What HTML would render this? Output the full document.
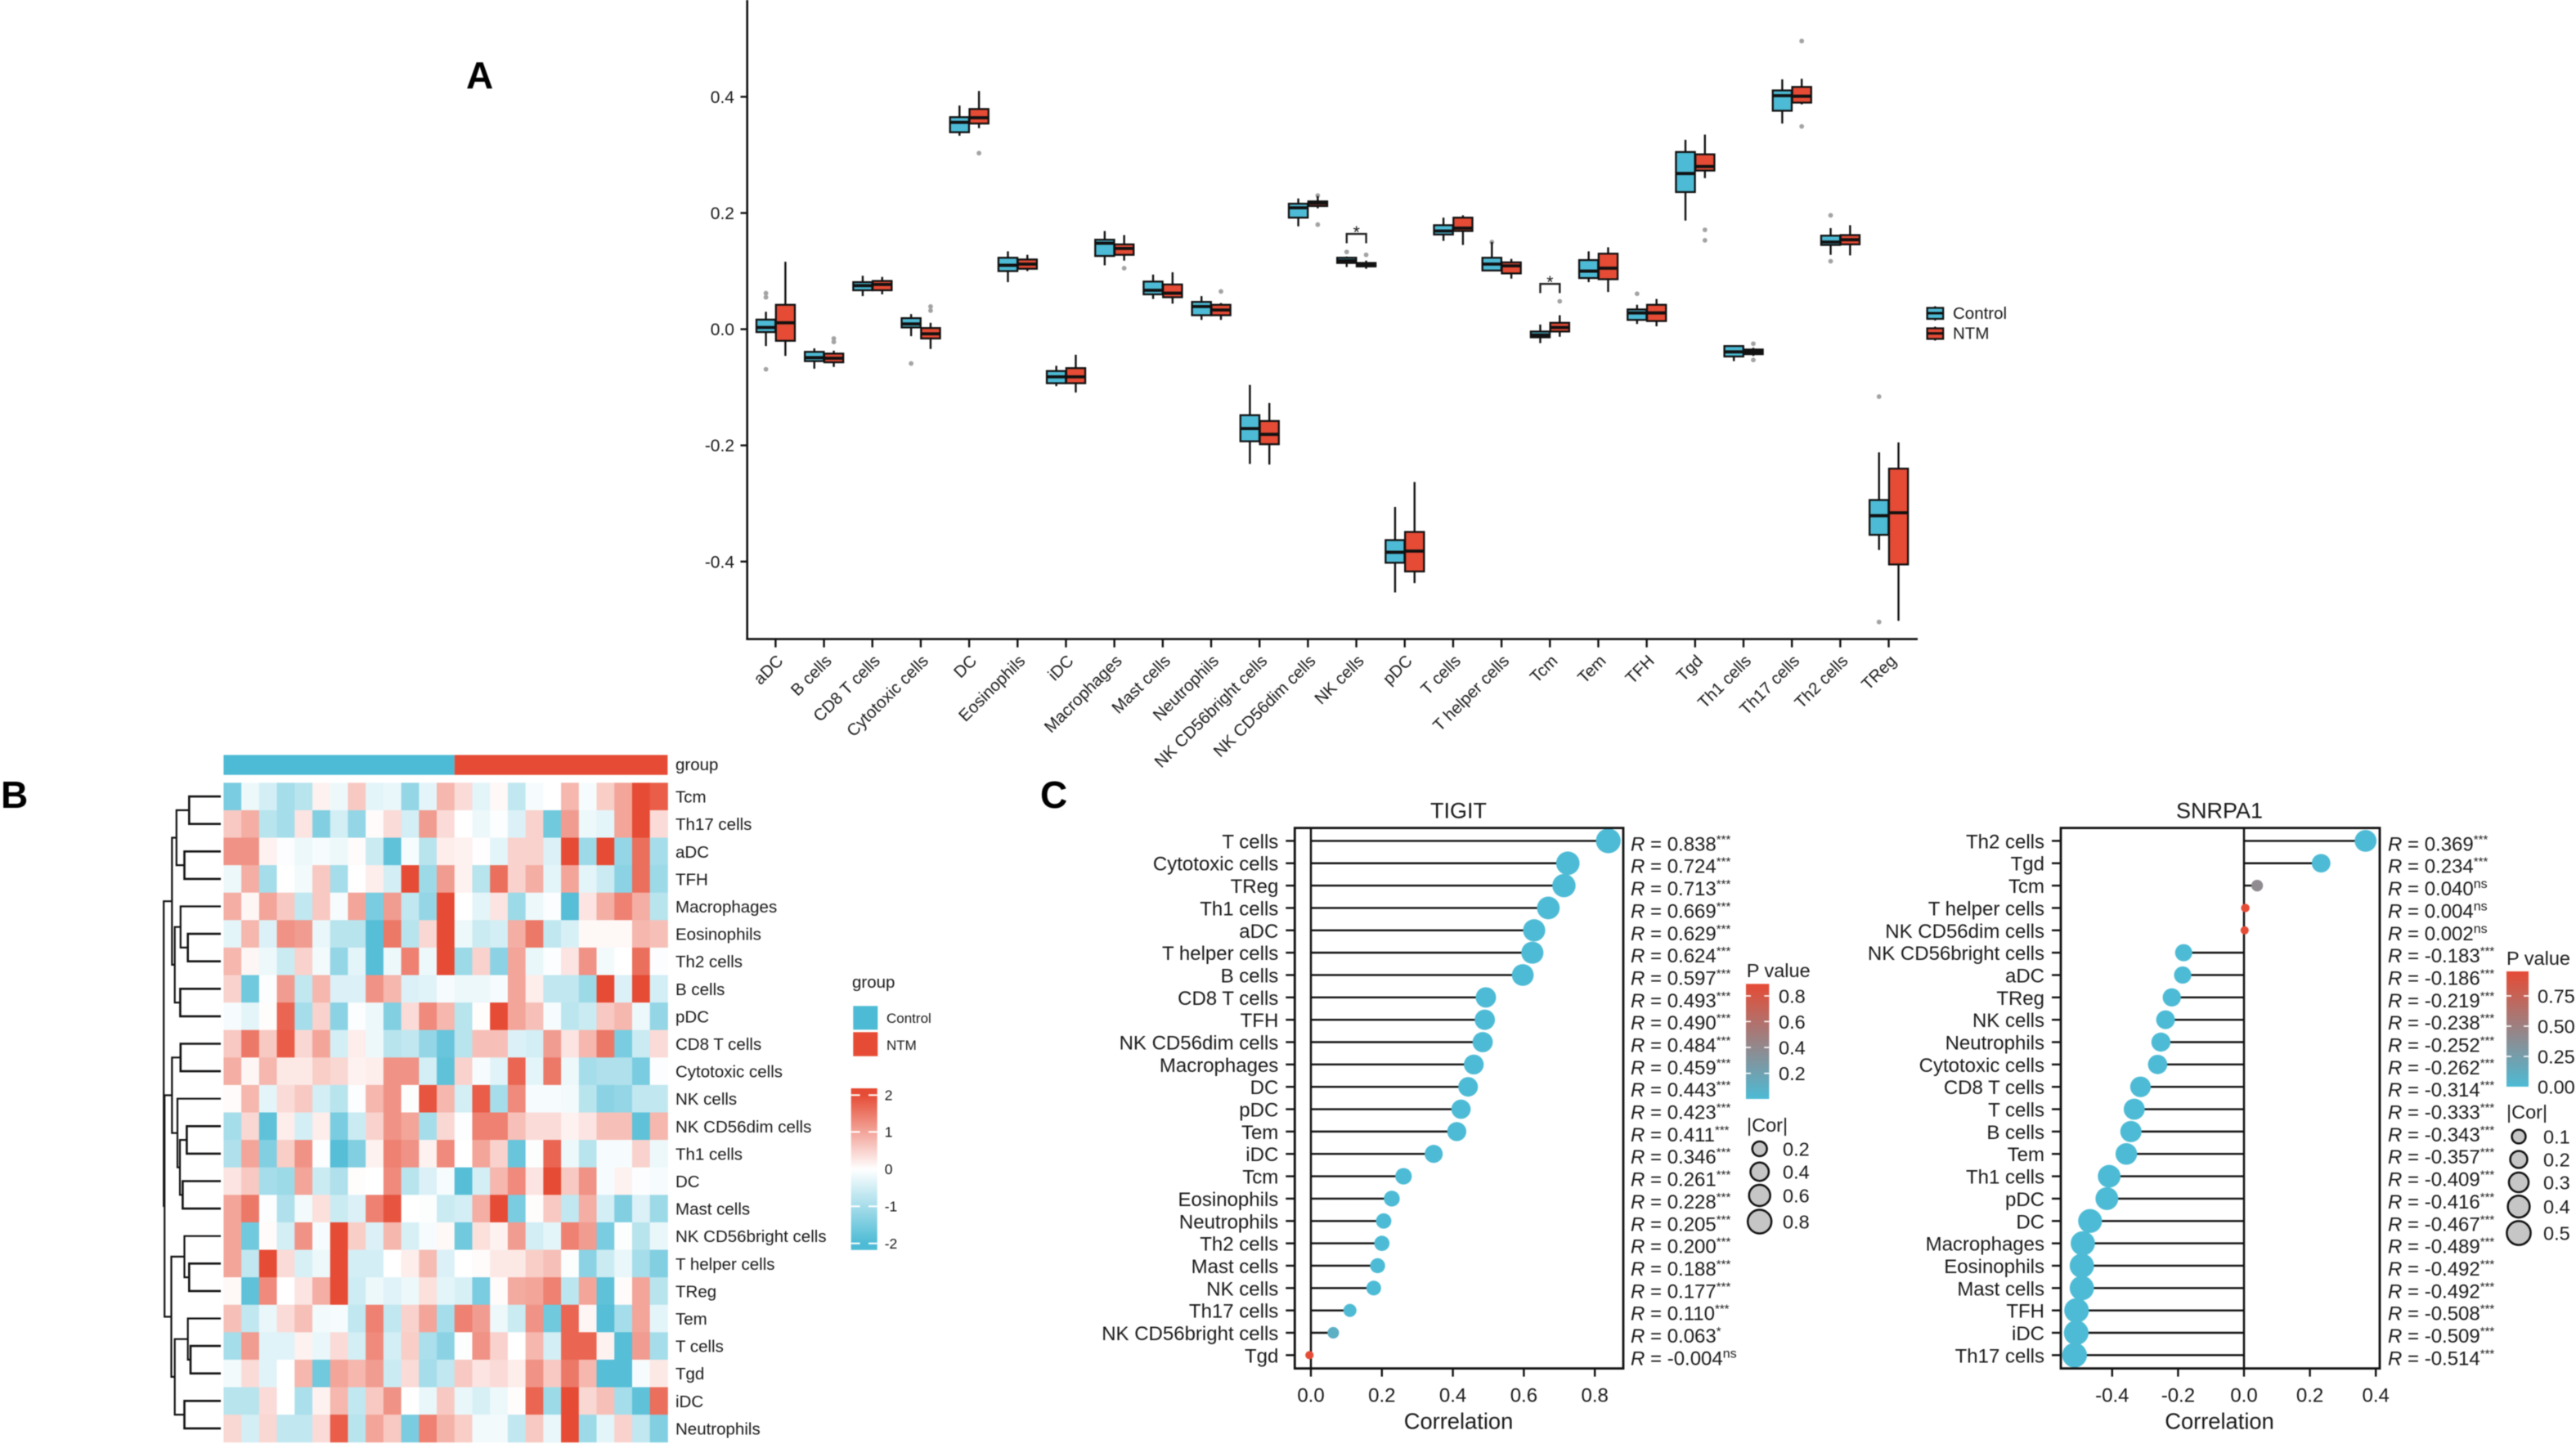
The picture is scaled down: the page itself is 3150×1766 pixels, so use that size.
<!DOCTYPE html>
<html lang="en">
<head>
<meta charset="utf-8">
<title>Immune infiltration figure</title>
<style>
html,body{margin:0;padding:0;background:#fff;}
svg{display:block;filter:blur(0.6px);}
text{font-family:"Liberation Sans",Arial,sans-serif;fill:#1a1a1a;}
</style>
</head>
<body>
<svg id="figure" xmlns="http://www.w3.org/2000/svg" width="3150" height="1766" viewBox="0 0 3150 1766">
<defs>
<linearGradient id="heatGrad" x1="0" y1="0" x2="0" y2="1">
<stop offset="0.04" stop-color="#E64B35"/><stop offset="0.5" stop-color="#ffffff"/><stop offset="0.96" stop-color="#4DBBD5"/>
</linearGradient>
<linearGradient id="pGrad" x1="0" y1="0" x2="0" y2="1">
<stop offset="0" stop-color="#E64B35"/><stop offset="1" stop-color="#4DBBD5"/>
</linearGradient>
</defs>
<rect x="0" y="0" width="3150" height="1766" fill="#fff"/>
<text x="570" y="108" font-size="46" font-weight="bold" style="fill:#000">A</text>
<text x="1" y="988" font-size="46" font-weight="bold" style="fill:#000">B</text>
<text x="1272" y="988" font-size="46" font-weight="bold" style="fill:#000">C</text>

<g>
<g>
<line x1="2366.3" x2="2366.3" y1="374.5" y2="392" stroke="#111" stroke-width="2.2"/>
<rect x="2356.6" y="376.5" width="19.6" height="13.5" fill="#4DBBD5" stroke="#111" stroke-width="2.2"/>
<line x1="2356.6" x2="2376.2" y1="383" y2="383" stroke="#111" stroke-width="3"/>
<text x="2388" y="390" font-size="20.5">Control</text>
</g>
<g>
<line x1="2366.3" x2="2366.3" y1="399.5" y2="416.5" stroke="#111" stroke-width="2.2"/>
<rect x="2356.6" y="401.5" width="19.6" height="13" fill="#E64B35" stroke="#111" stroke-width="2.2"/>
<line x1="2356.6" x2="2376.2" y1="407.7" y2="407.7" stroke="#111" stroke-width="3"/>
<text x="2388" y="414.5" font-size="20.5">NTM</text>
</g>
</g>

<g>
<text x="1042" y="1208" font-size="20.5">group</text>
<rect x="1043.3" y="1230.3" width="30" height="29" fill="#4DBBD5"/>
<rect x="1043.3" y="1262.3" width="30" height="29.4" fill="#E64B35"/>
<text x="1084" y="1251" font-size="17">Control</text>
<text x="1084" y="1284" font-size="17">NTM</text>
</g>

<g>
<rect x="1040.7" y="1331" width="32" height="197.7" fill="url(#heatGrad)"/>
<g stroke="#fff" stroke-width="2">
<line x1="1040.7" x2="1051.7" y1="1339.3" y2="1339.3"/><line x1="1062" x2="1072.7" y1="1339.3" y2="1339.3"/>
<line x1="1040.7" x2="1051.7" y1="1384.3" y2="1384.3"/><line x1="1062" x2="1072.7" y1="1384.3" y2="1384.3"/>
<line x1="1040.7" x2="1051.7" y1="1475.3" y2="1475.3"/><line x1="1062" x2="1072.7" y1="1475.3" y2="1475.3"/>
<line x1="1040.7" x2="1051.7" y1="1520.7" y2="1520.7"/><line x1="1062" x2="1072.7" y1="1520.7" y2="1520.7"/>
</g>
<g font-size="17.5">
<text x="1081.7" y="1345.5">2</text><text x="1081.7" y="1390.5">1</text><text x="1081.7" y="1436">0</text><text x="1081.7" y="1481.5">-1</text><text x="1081.7" y="1527">-2</text>
</g>
</g>

<g>
<text x="2135.7" y="1195" font-size="23.5">P value</text>
<rect x="2135" y="1203.3" width="28.3" height="140.7" fill="url(#pGrad)"/>
<g stroke="#fff" stroke-width="1.6">
<line x1="2135" x2="2141" y1="1218" y2="1218"/><line x1="2157.3" x2="2163.3" y1="1218" y2="1218"/>
<line x1="2135" x2="2141" y1="1249.3" y2="1249.3"/><line x1="2157.3" x2="2163.3" y1="1249.3" y2="1249.3"/>
<line x1="2135" x2="2141" y1="1281" y2="1281"/><line x1="2157.3" x2="2163.3" y1="1281" y2="1281"/>
<line x1="2135" x2="2141" y1="1312.7" y2="1312.7"/><line x1="2157.3" x2="2163.3" y1="1312.7" y2="1312.7"/>
</g>
<g font-size="23.5">
<text x="2175" y="1226.5">0.8</text><text x="2175" y="1257.8">0.6</text><text x="2175" y="1289.5">0.4</text><text x="2175" y="1321">0.2</text>
</g>
</g>

<g>
<text x="3065" y="1180" font-size="23.5">P value</text>
<rect x="3065" y="1188" width="27" height="141" fill="url(#pGrad)"/>
<g stroke="#fff" stroke-width="1.6">
<line x1="3065" x2="3071" y1="1218" y2="1218"/><line x1="3086" x2="3092" y1="1218" y2="1218"/>
<line x1="3065" x2="3071" y1="1255" y2="1255"/><line x1="3086" x2="3092" y1="1255" y2="1255"/>
<line x1="3065" x2="3071" y1="1292" y2="1292"/><line x1="3086" x2="3092" y1="1292" y2="1292"/>
</g>
<g font-size="23.5">
<text x="3103" y="1226.5">0.75</text><text x="3103" y="1263.5">0.50</text><text x="3103" y="1300.5">0.25</text><text x="3103" y="1337.5">0.00</text>
</g>
</g>

<g id="panelA"></g>
<g id="panelB"></g>
<g id="panelC1"></g>
<g id="panelC2"></g>
</svg>

<script>
/* ---------- Panel A: box plot data ---------- */
const boxCategories = ["aDC","B cells","CD8 T cells","Cytotoxic cells","DC","Eosinophils","iDC","Macrophages","Mast cells","Neutrophils","NK CD56bright cells","NK CD56dim cells","NK cells","pDC","T cells","T helper cells","Tcm","Tem","TFH","Tgd","Th1 cells","Th17 cells","Th2 cells","TReg"];
const boxYTicks = [0.4,0.2,0.0,-0.2,-0.4];
const boxYTickLabels = ["0.4","0.2","0.0","-0.2","-0.4"];
const controlLow  = [-0.029,-0.068,0.057,-0.012,0.333,0.081,-0.098,0.110,0.052,0.016,-0.232,0.177,0.107,-0.453,0.152,0.100,-0.024,0.081,0.009,0.187,-0.055,0.354,0.128,-0.380];
const controlQ1   = [-0.005,-0.055,0.067,0.003,0.339,0.100,-0.093,0.126,0.060,0.024,-0.193,0.192,0.114,-0.402,0.163,0.101,-0.014,0.088,0.016,0.236,-0.047,0.376,0.145,-0.354];
const controlMed  = [0.003,-0.049,0.075,0.009,0.356,0.110,-0.082,0.148,0.067,0.039,-0.171,0.209,0.118,-0.384,0.169,0.112,-0.010,0.100,0.028,0.268,-0.039,0.402,0.150,-0.321];
const controlQ3   = [0.0165,-0.039,0.081,0.019,0.365,0.123,-0.072,0.154,0.082,0.047,-0.148,0.216,0.123,-0.363,0.179,0.123,-0.004,0.119,0.034,0.305,-0.029,0.411,0.161,-0.294];
const controlHigh = [0.030,-0.033,0.092,0.026,0.385,0.134,-0.063,0.169,0.094,0.057,-0.096,0.225,0.125,-0.306,0.192,0.150,0.008,0.134,0.042,0.326,-0.028,0.430,0.174,-0.212];
const controlOutliers = [[0.062,0.055,-0.069],[],[],[-0.059],[],[],[],[],[],[],[],[],[0.133],[],[],[0.150],[],[],[0.061],[],[],[],[0.196,0.117],[-0.116,-0.504]];
const ntmLow  = [-0.046,-0.065,0.060,-0.034,0.346,0.100,-0.109,0.118,0.044,0.016,-0.233,0.208,0.104,-0.437,0.145,0.087,-0.013,0.064,0.005,0.260,-0.046,0.387,0.127,-0.502];
const ntmQ1   = [-0.020,-0.057,0.067,-0.016,0.354,0.104,-0.093,0.128,0.055,0.024,-0.198,0.212,0.108,-0.417,0.169,0.096,-0.004,0.086,0.014,0.273,-0.043,0.390,0.146,-0.405];
const ntmMed  = [0.011,-0.050,0.077,-0.008,0.364,0.112,-0.082,0.139,0.062,0.033,-0.181,0.217,0.111,-0.382,0.174,0.109,0.003,0.105,0.028,0.280,-0.039,0.401,0.154,-0.316];
const ntmQ3   = [0.042,-0.042,0.083,0.002,0.379,0.120,-0.067,0.146,0.077,0.042,-0.158,0.220,0.114,-0.349,0.192,0.115,0.011,0.130,0.042,0.301,-0.035,0.417,0.162,-0.240];
const ntmHigh = [0.116,-0.037,0.090,0.011,0.410,0.128,-0.044,0.162,0.098,0.045,-0.127,0.229,0.118,-0.263,0.196,0.121,0.024,0.141,0.052,0.335,-0.032,0.431,0.179,-0.195];
const ntmOutliers = [[],[-0.016,-0.022],[],[0.039,0.032],[0.303],[],[],[0.105],[],[0.065],[],[0.230,0.180],[0.128],[],[],[],[0.048],[],[],[0.171,0.153],[-0.025,-0.053],[0.496,0.349],[],[]];
const significantCategories = ["NK cells","Tcm"];
const significantBracketLow = [0.148,0.062];
const significantBracketHigh = [0.164,0.078];

/* ---------- Panel B: heatmap data ---------- */
const heatRows = ["Tcm","Th17 cells","aDC","TFH","Macrophages","Eosinophils","Th2 cells","B cells","pDC","CD8 T cells","Cytotoxic cells","NK cells","NK CD56dim cells","Th1 cells","DC","Mast cells","NK CD56bright cells","T helper cells","TReg","Tem","T cells","Tgd","iDC","Neutrophils"];
const heatGroupControlColumns = 13;
const heatGroupNtmColumns = 12;
const heatValues = [
[-1.5,-0.2,-0.5,-1,-0.8, 0.15,-0.2,0.6,-0.3,-0.25, -1.2,-0.3,0.8,0.4,-0.3, 0.08,-0.7,-0.1,0,0.8, -0.1,0.55,1.0,2,1.8],
[0.6,0.9,-0.8,-1.0,0.3, -1.4,-0.5,-1.2,0.05,0.4, -0.5,1.1,0.4,0,-0.2, -0.05,-0.4,0.5,-1.6,1.1, -0.2,-0.3,1.0,2,0.4],
[1.2,1.2,0.15,-0.05,-0.2, -0.1,-0.2,0.05,-0.6,-1.8, -0.1,-0.8,0.2,0.15,0.02, -0.3,0.5,0.5,-0.4,2, -1.1,2,-1.2,1.6,-1.0],
[-0.2,0.9,-1.0,0,-0.15, 0.6,-1.0,0,0.2,-0.5, 2,-1.1,1.1,0.15,-0.8, 1.6,0.5,0.9,-0.3,1.0, -0.3,-0.6,-1.3,1.6,-1.1],
[0.9,0.1,1.0,0.6,-0.7, 0.6,-0.1,1.0,-1.5,1.1, -0.7,-1.2,2,0,-0.3, 0.3,-1.1,-0.2,-0.05,-1.9, 0.3,0.9,1.4,0.9,-0.8],
[-0.3,0.8,-0.4,1.2,1.1, -0.25,-0.8,-0.8,-1.9,1.5, -0.8,0.45,2,-0.2,-0.6, -0.5,0.9,1.5,-0.7,-0.45, 0.08,0.08,0.08,0.8,0.7],
[0.8,0.1,-0.2,-0.6,0.5, -0.15,-1.2,-0.3,-1.9,-0.2, 1.4,-0.2,2,-1.1,0.5, -1.3,1.0,-0.25,-0.05,0.3, 1.2,-0.15,0,1.6,-0.05],
[0.5,-1.6,-0.05,1.1,-0.7, 0.8,-0.4,-0.4,1.2,0.8, -0.4,-0.35,-0.1,-0.2,-0.2, -0.1,1.0,0.2,-0.7,-0.7, -1.1,2,-0.4,2,-0.5],
[-0.1,-0.3,0.03,1.7,-1.0, 0.5,-1.3,-0.05,-0.2,-1.4, 0.4,1.3,0.8,-0.8,0.03, 2,1.0,0.7,-0.1,-0.75, -0.6,0.6,0.8,-0.2,-1.2],
[0.6,1.5,0.6,1.8,0.45, 1.0,-0.5,0.2,-0.2,-0.8, -0.7,-1.2,-1.7,-0.8,0.7, 0.7,-0.4,-0.5,1.1,0.3, 0.8,1.5,-1.5,-0.6,0.4],
[0.9,0.1,0.8,0.25,0.25, 0.55,0.45,0.15,0.2,1.2, 1.2,-0.5,-1.8,0.5,-0.1, -0.35,1.7,-0.3,1.5,-0.2, -1.0,-0.9,-0.9,-1.5,-0.05],
[0.05,0.8,-0.3,0.4,0.6, -0.5,-0.8,-0.05,0.8,1.2, -0.03,1.9,0.8,-0.5,1.8, -1.0,1.3,-0.1,-0.1,-0.15, -0.8,-1.3,-1.2,-0.7,-0.7],
[-1.0,0.45,-1.8,0.2,-0.5, 0.2,-1.5,-0.6,0.5,1.2, 1.0,-1.0,0.45,-0.05,1.4, 1.4,0.7,0.4,0.4,0.15, 0.3,0.7,0.7,-1.8,0.8],
[-0.9,1.0,-1.4,0.55,1.2, -0.05,-1.9,-1.4,0.15,1.4, 1.2,0.15,1.3,0,1.0, 0.5,-1.7,-0.03,1.7,-0.2, -0.8,-0.1,-0.1,0.5,-0.2],
[0.3,0.6,-1.0,-1.1,1.0, -0.6,-0.9,0.03,0,1.3, -0.8,-0.4,-0.1,-1.9,-0.5, 0.8,1.3,0.3,2,0.6, 1.2,-0.1,0.15,-0.05,-0.1],
[1.0,1.5,-0.05,-0.9,-0.15, 0.35,-0.6,-0.4,1.4,1.9, 0,-0.03,-0.6,-0.5,0.9, 2,-1.5,0.03,0.6,-0.7, 0.9,-0.5,-1.4,-0.4,-1.1],
[1.0,-1.6,0.05,-0.5,1.2, -0.1,2,0.55,-0.4,0.8, -0.45,-0.1,0.08,-1.6,0.35, 0.15,1.1,-0.5,-0.3,1.4, 1.1,-1.5,-0.03,-0.8,-0.25],
[1.0,-0.7,2,0.4,-0.45, -0.2,2,-0.5,-0.5,0, 0.2,0.75,-0.4,0,0.05, 0.25,0.25,0.55,0.7,-0.03, -1.3,-0.6,-0.25,-1.0,-1.4],
[0.08,-1.8,1.3,0,0.3, 0.9,2,-0.55,-0.2,-0.35, -0.2,0.35,-0.3,-0.45,-1.5, 0.05,0.95,1.0,1.4,-0.75, 1.0,-1.8,0.05,1.0,-0.8],
[0.7,-0.7,-0.25,0.4,0.7, -0.15,-0.1,-0.7,1.4,-0.7, 0.5,1.0,-1.0,1.4,1.1, -0.2,-0.6,1.2,-1.6,1.7, 0.1,-1.9,-1.0,1.0,-0.3],
[-1.0,1.1,-0.35,-0.35,0.15, -0.25,0.4,-0.5,1.3,-0.5, 0.55,-0.95,-1.3,-0.03,1.2, 0.5,0,0.8,-0.5,1.7, 1.7,0.15,-1.9,1.1,-1.0],
[-0.15,0.4,-0.35,0,0.8, -1.6,1.0,0.8,1.1,-0.6, 0.4,-1.0,-0.7,0.6,0.3, 0.4,0.2,1.2,0.6,1.5, 0.8,-1.9,-1.9,-0.1,0.25],
[-0.8,-0.8,0.4,0,-0.95, 0.15,0.8,-0.7,0.6,1.2, 0,-0.25,0.6,-0.25,-0.45, -0.2,0.03,1.7,-1.1,2, 0.45,0.7,-1.0,-1.8,1.6],
[0.45,-0.5,0.45,-0.7,-0.7, 0.4,1.8,-0.8,1.0,0.6, -1.5,1.4,0.85,0.55,-0.15, -0.15,-0.7,0.6,-0.25,2, -1.1,-0.3,0.5,-0.7,-1.4]
];

/* ---------- Panel C: lollipop data ---------- */
const tigitCells = ["T cells","Cytotoxic cells","TReg","Th1 cells","aDC","T helper cells","B cells","CD8 T cells","TFH","NK CD56dim cells","Macrophages","DC","pDC","Tem","iDC","Tcm","Eosinophils","Neutrophils","Th2 cells","Mast cells","NK cells","Th17 cells","NK CD56bright cells","Tgd"];
const tigitCor = [0.838,0.724,0.713,0.669,0.629,0.624,0.597,0.493,0.490,0.484,0.459,0.443,0.423,0.411,0.346,0.261,0.228,0.205,0.200,0.188,0.177,0.110,0.063,-0.004];
const tigitP = [0,0,0,0,0,0,0,0,0,0,0,0,0,0,0,0,0,0,0,0,0,0.01,0.1,0.93];
const tigitSig = ["***","***","***","***","***","***","***","***","***","***","***","***","***","***","***","***","***","***","***","***","***","***","*","ns"];
const tigitXTicks = [0,0.2,0.4,0.6,0.8];
const tigitSizeLegend = [0.2,0.4,0.6,0.8];
const snrpaCells = ["Th2 cells","Tgd","Tcm","T helper cells","NK CD56dim cells","NK CD56bright cells","aDC","TReg","NK cells","Neutrophils","Cytotoxic cells","CD8 T cells","T cells","B cells","Tem","Th1 cells","pDC","DC","Macrophages","Eosinophils","Mast cells","TFH","iDC","Th17 cells"];
const snrpaCor = [0.369,0.234,0.040,0.004,0.002,-0.183,-0.186,-0.219,-0.238,-0.252,-0.262,-0.314,-0.333,-0.343,-0.357,-0.409,-0.416,-0.467,-0.489,-0.492,-0.492,-0.508,-0.509,-0.514];
const snrpaP = [0,0,0.4,0.93,0.96,0,0,0,0,0,0,0,0,0,0,0,0,0,0,0,0,0,0,0];
const snrpaSig = ["***","***","ns","ns","ns","***","***","***","***","***","***","***","***","***","***","***","***","***","***","***","***","***","***","***"];
const snrpaXTicks = [-0.4,-0.2,0,0.2,0.4];
const snrpaSizeLegend = [0.1,0.2,0.3,0.4,0.5];

const SVGNS = "http://www.w3.org/2000/svg";
const BLUE = [77,187,213], RED = [230,75,53], WHITE = [255,255,255];
function add(parent, tag, attrs, txt) {
  const e = document.createElementNS(SVGNS, tag);
  for (const k in attrs) e.setAttribute(k, attrs[k]);
  if (txt !== undefined) e.textContent = txt;
  parent.appendChild(e);
  return e;
}
function mix(a, b, t) {
  return "rgb(" + a.map((v, i) => Math.round(v + (b[i] - v) * t)).join(",") + ")";
}

/* ========== Panel A ========== */
function yA(v) { return 402.6 - 710.5 * v; }
function xA(i) { return 948.4 + 59.18 * i; }
const panelA = document.getElementById("panelA");
let node;
node = add(panelA, "line", {x1:913.7,x2:913.7,y1:0,y2:782.5,stroke:"#111","stroke-width":2.6});


node = add(panelA, "line", {x1:912.4,x2:2345,y1:781.6,y2:781.6,stroke:"#111","stroke-width":2.6});



boxYTicks.forEach(function (v, i) {
  const t = add(panelA, "line", {x1:905.5,x2:913.7,y1:yA(v),y2:yA(v),stroke:"#111","stroke-width":2.4});
  
  
  const l = add(panelA, "text", {x:898,y:yA(v)+7.5,"text-anchor":"end","font-size":21}, boxYTickLabels[i]);
  
  
});
boxCategories.forEach(function (c, i) {
  const t = add(panelA, "line", {x1:xA(i),x2:xA(i),y1:781.6,y2:791.7,stroke:"#111","stroke-width":2.4});
  
  
  const px = xA(i) + 10.5, py = 809.5;
  const l = add(panelA, "text", {transform:"translate(" + px + "," + py + ") rotate(-45)","text-anchor":"end","font-size":20.5}, c);
  
  
});

const boxSeries = [
  {key:"control", off:-11.8, fill:"#4DBBD5", low:controlLow, q1:controlQ1, med:controlMed, q3:controlQ3, high:controlHigh, out:controlOutliers},
  {key:"ntm", off:12, fill:"#E64B35", low:ntmLow, q1:ntmQ1, med:ntmMed, q3:ntmQ3, high:ntmHigh, out:ntmOutliers}
];
boxSeries.forEach(function (s) {
  boxCategories.forEach(function (c, i) {
    const cx = xA(i) + s.off;
    const g = add(panelA, "g", {});
    
    
    s.out[i].forEach(function (o) {
      const p = add(g, "circle", {cx:cx,cy:yA(o),r:2.9,fill:"#a3a3a3"});
      
      
    });
    const w = add(g, "line", {x1:cx,x2:cx,y1:yA(s.high[i]),y2:yA(s.low[i]),stroke:"#111","stroke-width":2.4});
    
    
    const r = add(g, "rect", {x:cx-11.6,y:yA(s.q3[i]),width:23.2,height:yA(s.q1[i])-yA(s.q3[i]),fill:s.fill,stroke:"#111","stroke-width":2.3});
    
    
    const m = add(g, "line", {x1:cx-11.6,x2:cx+11.6,y1:yA(s.med[i]),y2:yA(s.med[i]),stroke:"#111","stroke-width":3.8});
    
    
  });
});
significantCategories.forEach(function (c, k) {
  const i = boxCategories.indexOf(c);
  const xl = xA(i) - 11.8, xr = xA(i) + 12, yl = yA(significantBracketLow[k]), yh = yA(significantBracketHigh[k]);
  const b = add(panelA, "path", {d:"M" + xl + " " + yl + "V" + yh + "H" + xr + "V" + yl,fill:"none",stroke:"#222","stroke-width":2.4});
  
  
  const st = add(panelA, "text", {x:(xl+xr)/2,y:yh+5,"text-anchor":"middle","font-size":21}, "*");
  
  
});

/* ========== Panel B ========== */
const panelB = document.getElementById("panelB");
const HX0 = 273.4, HW = 21.72, HY0 = 957.3, HH = 33.6;
function heatX(c) { return HX0 + HW * c; }
function heatY(r) { return HY0 + HH * r; }
function heatColor(v) {
  const t = Math.min(Math.abs(v) / 2, 1);
  return v >= 0 ? mix(WHITE, RED, t) : mix(WHITE, BLUE, t);
}
node = add(panelB, "rect", {x:heatX(0),y:923.3,width:HW*heatGroupControlColumns,height:24.4,fill:"#4DBBD5"});


node = add(panelB, "rect", {x:heatX(heatGroupControlColumns),y:923.3,width:HW*heatGroupNtmColumns,height:24.4,fill:"#E64B35"});


node = add(panelB, "text", {x:826,y:942,"font-size":20.5}, "group");


heatValues.forEach(function (row, r) {
  row.forEach(function (v, c) {
    const cell = add(panelB, "rect", {x:heatX(c),y:heatY(r),width:HW+0.4,height:HH+0.4,fill:heatColor(v)});
    
    
  });
});
heatRows.forEach(function (name, r) {
  const l = add(panelB, "text", {x:826,y:heatY(r)+HH/2+7.5,"font-size":20.5}, name);
  
  
});
/* dendrogram: [merge position, child, child]; numbers at leaves are row indices */
const dendrogramTree = [200.2,
  [210.3,
    [215.8,[231.3,0,1],[225.5,2,3]],
    [213.7,[220.8,4,[229.7,5,6]],[220.4,7,8]]],
  [201.2,
    [210.3,[220.8,9,10],[217,11,[220,[228.4,12,13],[223.4,14,15]]]],
    [209.5,[225.5,16,[231.3,17,18]],[213.7,[229.7,19,[233,20,21]],[225.5,22,23]]]]];
function drawDendro(n) {
  if (typeof n === "number") return {x:270, y:heatY(n) + HH/2, leaf:true};
  const a = drawDendro(n[1]), b = drawDendro(n[2]);
  const d = "M" + a.x + " " + a.y + "H" + n[0] + "V" + b.y + "H" + b.x;
  const p = add(panelB, "path", {d:d,fill:"none",stroke:"#111","stroke-width":(a.leaf && b.leaf) ? 2.6 : 2.2});
  
  
  return {x:n[0], y:(a.y + b.y)/2, leaf:false};
}
drawDendro(dendrogramTree);

/* ========== Panel C ========== */
function drawLollipop(cfg) {
  const root = document.getElementById(cfg.id);
  const x = function (v) { return cfg.x0 + cfg.xs * v; };
  const TOP = 1012.6, BOT = 1673.6;
  const y = function (i) { return 1028.4 + 27.345 * i; };
  const maxR = Math.max.apply(null, cfg.cor.map(Math.abs));
  const dia = function (r) { return 9 + 21.3 * Math.pow(Math.abs(r) / maxR, 0.55); };
  const pColor = function (p) { return mix(BLUE, RED, Math.min(p / 0.93, 1)); };

  const zero = add(root, "line", {x1:x(0),x2:x(0),y1:TOP,y2:BOT,stroke:"#111","stroke-width":2.5});
  
  

  cfg.cells.forEach(function (c, i) {
    const st = add(root, "line", {x1:x(0),x2:x(cfg.cor[i]),y1:y(i),y2:y(i),stroke:"#111","stroke-width":2.4});
    
    
    const dot = add(root, "circle", {cx:x(cfg.cor[i]),cy:y(i),r:dia(cfg.cor[i])/2,fill:pColor(cfg.p[i])});
    
    
    const tk = add(root, "line", {x1:cfg.frameL-11,x2:cfg.frameL,y1:y(i),y2:y(i),stroke:"#111","stroke-width":2.4});
    
    
    const lb = add(root, "text", {x:cfg.frameL-20,y:y(i)+9,"text-anchor":"end","font-size":24}, c);
    
    
    const rt = add(root, "text", {x:cfg.rX,y:y(i)+12,"font-size":24});
    
    
    add(rt, "tspan", {"font-style":"italic"}, "R");
    add(rt, "tspan", {}, " = " + cfg.cor[i].toFixed(3));
    const sup = add(rt, "tspan", {dy:-9,"font-size":cfg.sig[i] === "ns" ? 16 : 15}, cfg.sig[i]);
    
    
  });

  const fr = add(root, "rect", {x:cfg.frameL,y:TOP,width:cfg.frameR-cfg.frameL,height:BOT-TOP,fill:"none",stroke:"#111","stroke-width":2.8});
  
  

  cfg.ticks.forEach(function (v) {
    const t = add(root, "line", {x1:x(v),x2:x(v),y1:BOT,y2:BOT+10,stroke:"#111","stroke-width":2.4});
    
    
    const l = add(root, "text", {x:x(v),y:1714.5,"text-anchor":"middle","font-size":24}, v.toFixed(1));
    
    
  });

  const ti = add(root, "text", {x:cfg.titleX,y:1000.5,"text-anchor":"middle","font-size":27}, cfg.title);
  
  
  const xt = add(root, "text", {x:cfg.titleX,y:1747.5,"text-anchor":"middle","font-size":27.3}, "Correlation");
  
  

  const lt = add(root, "text", {x:cfg.legendX,y:cfg.corTitleY,"font-size":23.5}, "|Cor|");
  
  
  cfg.sizeLegend.forEach(function (v, i) {
    const ly = cfg.sizeYs[i];
    const cir = add(root, "circle", {cx:cfg.sizeX,cy:ly,r:dia(v)/2-0.4,fill:"#c6c6c6",stroke:"#111","stroke-width":2.5});
    
    
    const tx = add(root, "text", {x:cfg.sizeLabelX,y:ly+8.5,"font-size":23.5}, v.toFixed(1));
    
    
  });
}
drawLollipop({id:"panelC1",title:"TIGIT",cells:tigitCells,cor:tigitCor,p:tigitP,sig:tigitSig,ticks:tigitXTicks,
  x0:1603,xs:434,frameL:1583.3,frameR:1985,rX:1994,titleX:1783.5,
  legendX:2136,corTitleY:1384,sizeLegend:tigitSizeLegend,sizeX:2151.7,sizeYs:[1405,1433,1462,1494],sizeLabelX:2180});
drawLollipop({id:"panelC2",title:"SNRPA1",cells:snrpaCells,cor:snrpaCor,p:snrpaP,sig:snrpaSig,ticks:snrpaXTicks,
  x0:2744,xs:403,frameL:2520,frameR:2910,rX:2920,titleX:2714,
  legendX:3065,corTitleY:1368,sizeLegend:snrpaSizeLegend,sizeX:3080,sizeYs:[1390,1418,1446,1475.6,1508],sizeLabelX:3110});
</script>
</body>
</html>
